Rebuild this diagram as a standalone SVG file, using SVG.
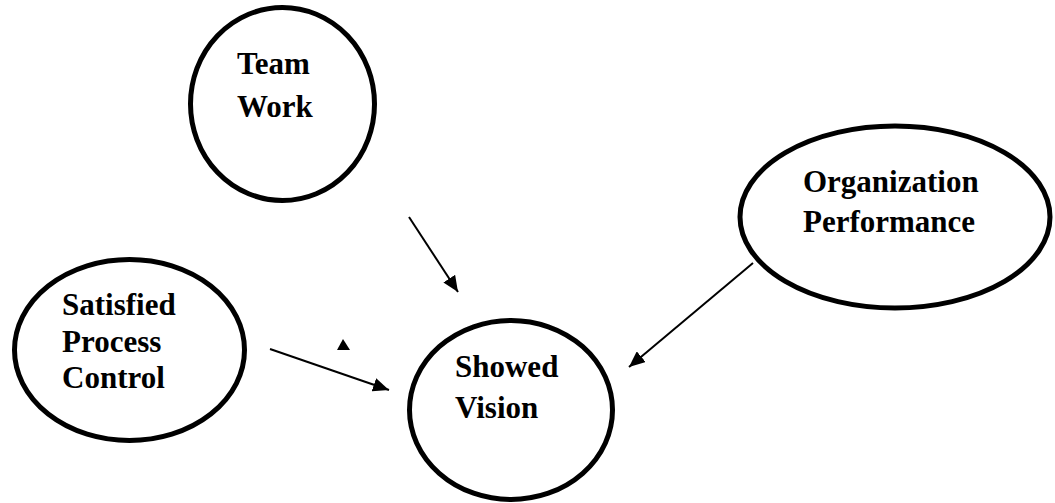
<svg xmlns="http://www.w3.org/2000/svg" width="1055" height="503" viewBox="0 0 1055 503">
  <style>
    .node { fill: #ffffff; stroke: #000000; stroke-width: 5; }
    .label { font-family: "Liberation Serif", "Times New Roman", serif; font-weight: bold; font-size: 31px; fill: #000000; }
    .edge { stroke: #000000; stroke-width: 2; fill: none; }
  </style>
  <defs>
    <marker id="arrow" viewBox="0 0 16 14" refX="16" refY="7" markerWidth="16" markerHeight="14" markerUnits="userSpaceOnUse" orient="auto">
      <path d="M0,0 L16,7 L0,14 Z" fill="#000000"/>
    </marker>
  </defs>
  <rect width="1055" height="503" fill="#ffffff"/>

  <g id="team-work">
    <ellipse class="node" cx="282.5" cy="104" rx="92" ry="96.5"/>
    <text class="label" x="237" y="74">Team</text>
    <text class="label" x="237" y="117">Work</text>
  </g>

  <g id="organization-performance">
    <ellipse class="node" cx="895" cy="217" rx="155" ry="91"/>
    <text class="label" x="803" y="192">Organization</text>
    <text class="label" x="803" y="232">Performance</text>
  </g>

  <g id="satisfied-process-control">
    <ellipse class="node" cx="129.5" cy="350" rx="115" ry="90.5"/>
    <text class="label" x="62" y="315">Satisfied</text>
    <text class="label" x="62" y="352">Process</text>
    <text class="label" x="62" y="388">Control</text>
  </g>

  <g id="showed-vision">
    <ellipse class="node" cx="511" cy="410" rx="101.5" ry="89.5"/>
    <text class="label" x="455" y="377">Showed</text>
    <text class="label" x="455" y="418">Vision</text>
  </g>

  <g id="connectors">
    <line class="edge" x1="409" y1="217" x2="458" y2="292" marker-end="url(#arrow)"/>
    <line class="edge" x1="270" y1="349" x2="389" y2="390" marker-end="url(#arrow)"/>
    <line class="edge" x1="753" y1="263" x2="629" y2="367" marker-end="url(#arrow)"/>
    <!-- loose arrowhead left on its own -->
    <polygon points="343,339 337,350 350,350" fill="#000000"/>
  </g>
</svg>
